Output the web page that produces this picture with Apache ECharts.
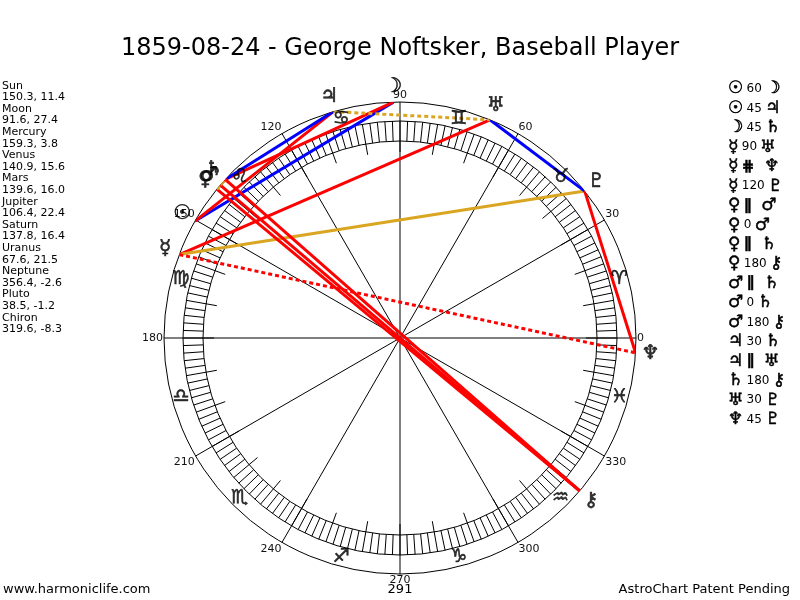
<!DOCTYPE html>
<html>
<head>
<meta charset="utf-8">
<script src="https://cdn.jsdelivr.net/npm/echarts@6/dist/echarts.min.js"></script>
<style>
  html, body { margin: 0; padding: 0; background: #fff; }
  #chart { width: 800px; height: 600px; }
</style>
</head>
<body>
<div id="chart"></div>
<script>
// planet data (longitude, declination)
var planetNames = ['Sun', 'Moon', 'Mercury', 'Venus', 'Mars', 'Jupiter', 'Saturn', 'Uranus', 'Neptune', 'Pluto', 'Chiron'];
var planetGlyphs = ['☉', '☽', '☿', '♀', '♂', '♃', '♄', '♅', '♆', '♇', '⚷'];
var longitudes = [150.3, 91.6, 159.3, 140.9, 139.6, 106.4, 137.8, 67.6, 356.4, 38.5, 319.6];
var declinations = [11.4, 27.4, 3.8, 15.6, 16.0, 22.4, 16.4, 21.5, -2.6, -1.2, -8.3];

// zodiac signs, one per 30 degrees starting at 0
var signGlyphs = ['♈', '♉', '♊', '♋', '♌', '♍', '♎', '♏', '♐', '♑', '♒', '♓'];

// aspects: planet index, aspect, planet index
var aspectFrom = [0, 0, 1, 2, 2, 2, 3, 3, 3, 3, 4, 4, 4, 5, 5, 6, 7, 8];
var aspectKind = ['60', '45', '45', '90', '#', '120', 'II', '0', 'II', '180', 'II', '0', '180', '30', 'II', '180', '30', '45'];
var aspectTo = [1, 5, 6, 7, 8, 9, 4, 4, 6, 10, 6, 6, 10, 6, 7, 10, 9, 9];

var bottomValue = '291';
var title = '1859-08-24 - George Noftsker, Baseball Player';

var RED = '#ff0000', BLUE = '#0000ff', GOLD = '#daa520';
var kindStyle = {
  '0': { color: RED, type: 'solid' },
  '30': { color: BLUE, type: 'solid' },
  '45': { color: RED, type: 'solid' },
  '60': { color: BLUE, type: 'solid' },
  '90': { color: RED, type: 'solid' },
  '120': { color: GOLD, type: 'solid' },
  '180': { color: RED, type: 'solid' },
  'II': { color: GOLD, type: [4, 3] },
  '#': { color: RED, type: [4, 3] }
};
var kindSymbol = { 'II': '∥', '#': '⋕' };

var FONT = 'DejaVu Sans';
var CENTER = [400, 338];
var R_OUT = 236;
var R_GLYPH = 300; // outer helper polar used only to place glyphs

var myChart = echarts.init(document.getElementById('chart'));

var series = [];
// aspect lines (solid ones first, dotted on top)
var order = [];
for (var k = 0; k < aspectKind.length; k++) order.push(k);
order.sort(function (a, b) {
  var da = (aspectKind[a] === 'II' || aspectKind[a] === '#') ? 1 : 0;
  var db = (aspectKind[b] === 'II' || aspectKind[b] === '#') ? 1 : 0;
  return da - db;
});
order.forEach(function (k) {
  var st = kindStyle[aspectKind[k]];
  series.push({
    type: 'line',
    coordinateSystem: 'polar',
    polarIndex: 0,
    silent: true,
    symbol: 'none',
    z: 5,
    lineStyle: { color: st.color, width: 3, type: st.type },
    data: [[R_OUT, longitudes[aspectFrom[k]]], [R_OUT, longitudes[aspectTo[k]]]]
  });
});

// planet glyphs outside the wheel (Mars drawn first so Venus covers it)
var glyphOrder = [0, 1, 2, 4, 3, 5, 6, 7, 8, 9, 10];
series.push({
  type: 'scatter',
  coordinateSystem: 'polar',
  polarIndex: 3,
  silent: true,
  symbolSize: 0,
  z: 6,
  label: {
    show: true,
    position: 'inside',
    fontFamily: FONT,
    fontSize: 20,
    color: '#000',
    textBorderColor: '#000',
    textBorderWidth: 0.6,
    formatter: function (p) { return planetGlyphs[glyphOrder[p.dataIndex]]; }
  },
  data: glyphOrder.map(function (i) { return [251, longitudes[i]]; })
});

// sign glyphs between the band and the outer circle
series.push({
  type: 'scatter',
  coordinateSystem: 'polar',
  polarIndex: 3,
  silent: true,
  symbolSize: 0,
  z: 6,
  label: {
    show: true,
    position: 'inside',
    fontFamily: FONT,
    fontSize: 19,
    color: '#000',
    textBorderColor: '#000',
    textBorderWidth: 0.6,
    formatter: function (p) { return signGlyphs[p.dataIndex]; }
  },
  data: signGlyphs.map(function (s, i) { return [227, i * 30 + 15]; })
});

// left planet list
var leftLines = [];
planetNames.forEach(function (n, i) {
  leftLines.push(n);
  leftLines.push(longitudes[i].toFixed(1) + ', ' + declinations[i].toFixed(1));
});

var graphics = [
  {
    type: 'text', left: 2, top: 80,
    style: { text: leftLines.join('\n'), font: '11px "DejaVu Sans"', fill: '#000', lineHeight: 11.6 }
  },
  {
    type: 'text', x: 400, y: 590,
    style: { text: bottomValue, font: '13px "DejaVu Sans"', fill: '#000', align: 'center', verticalAlign: 'middle' }
  },
  {
    type: 'text', x: 3, y: 590,
    style: { text: 'www.harmoniclife.com', font: '13px "DejaVu Sans"', fill: '#000', verticalAlign: 'middle' }
  },
  {
    type: 'text', x: 790, y: 590,
    style: { text: 'AstroChart Patent Pending', font: '13px "DejaVu Sans"', fill: '#000', align: 'right', verticalAlign: 'middle' }
  }
];

// right aspect list
aspectKind.forEach(function (kind, k) {
  var sym = kindSymbol[kind] || kind;
  var isPar = !!kindSymbol[kind];
  graphics.push({
    type: 'text', x: 728, y: 89 + k * 19.45,
    style: {
      text: '{g|' + planetGlyphs[aspectFrom[k]] + '} {' + (isPar ? 'p' : 'n') + '|' + sym + '}' + (isPar ? '   ' : ' ') + '{g|' + planetGlyphs[aspectTo[k]] + '}',
      verticalAlign: 'middle',
      rich: {
        g: { fontFamily: FONT, fontSize: 17, fill: '#000', stroke: '#000', lineWidth: 0.5 },
        n: { fontFamily: FONT, fontSize: 12, fill: '#000' },
        p: { fontFamily: FONT, fontSize: 15, fontWeight: 'bold', fill: '#000', stroke: '#000', lineWidth: 0.5 }
      }
    }
  });
});

var option = {
  animation: false,
  backgroundColor: '#fff',
  title: {
    text: title,
    left: 'center',
    top: 32,
    textStyle: { fontFamily: FONT, fontSize: 24, fontWeight: 'normal', color: '#000' }
  },
  polar: [
    { center: CENTER, radius: R_OUT },
    { center: CENTER, radius: 217 },
    { center: CENTER, radius: 197 },
    { center: CENTER, radius: R_GLYPH }
  ],
  angleAxis: [
    {
      polarIndex: 0, type: 'value', min: 0, max: 360, interval: 30,
      startAngle: 0, clockwise: false,
      axisLine: { lineStyle: { color: '#000', width: 1 } },
      axisTick: { show: false },
      axisLabel: {
        margin: 1, fontFamily: FONT, fontSize: 11, color: '#111',
        formatter: function (v) { return v === 360 ? '' : String(v); }
      },
      splitLine: { show: true, lineStyle: { color: '#000', width: 1 } },
      z: 3
    },
    {
      polarIndex: 1, type: 'value', min: 0, max: 360, interval: 10,
      startAngle: 0, clockwise: false,
      axisLine: { lineStyle: { color: '#000', width: 1 } },
      axisTick: { show: true, inside: true, length: 31, lineStyle: { color: '#000', width: 1 } },
      minorTick: { show: true, splitNumber: 5, length: 20, lineStyle: { color: '#000', width: 1 } },
      axisLabel: { show: false },
      splitLine: { show: false }
    },
    {
      polarIndex: 2, type: 'value', min: 0, max: 360,
      startAngle: 0, clockwise: false,
      axisLine: { lineStyle: { color: '#000', width: 1 } },
      axisTick: { show: false },
      axisLabel: { show: false },
      splitLine: { show: false }
    },
    {
      polarIndex: 3, type: 'value', min: 0, max: 360,
      startAngle: 0, clockwise: false,
      axisLine: { show: false },
      axisTick: { show: false },
      axisLabel: { show: false },
      splitLine: { show: false }
    }
  ],
  radiusAxis: [0, 1, 2, 3].map(function (i) {
    return {
      polarIndex: i, type: 'value', min: 0,
      max: i === 0 ? R_OUT : (i === 3 ? R_GLYPH : 100),
      axisLine: { show: false }, axisTick: { show: false },
      axisLabel: { show: false }, splitLine: { show: false }
    };
  }),
  graphic: graphics,
  series: series
};

option && myChart.setOption(option);
</script>
</body>
</html>
